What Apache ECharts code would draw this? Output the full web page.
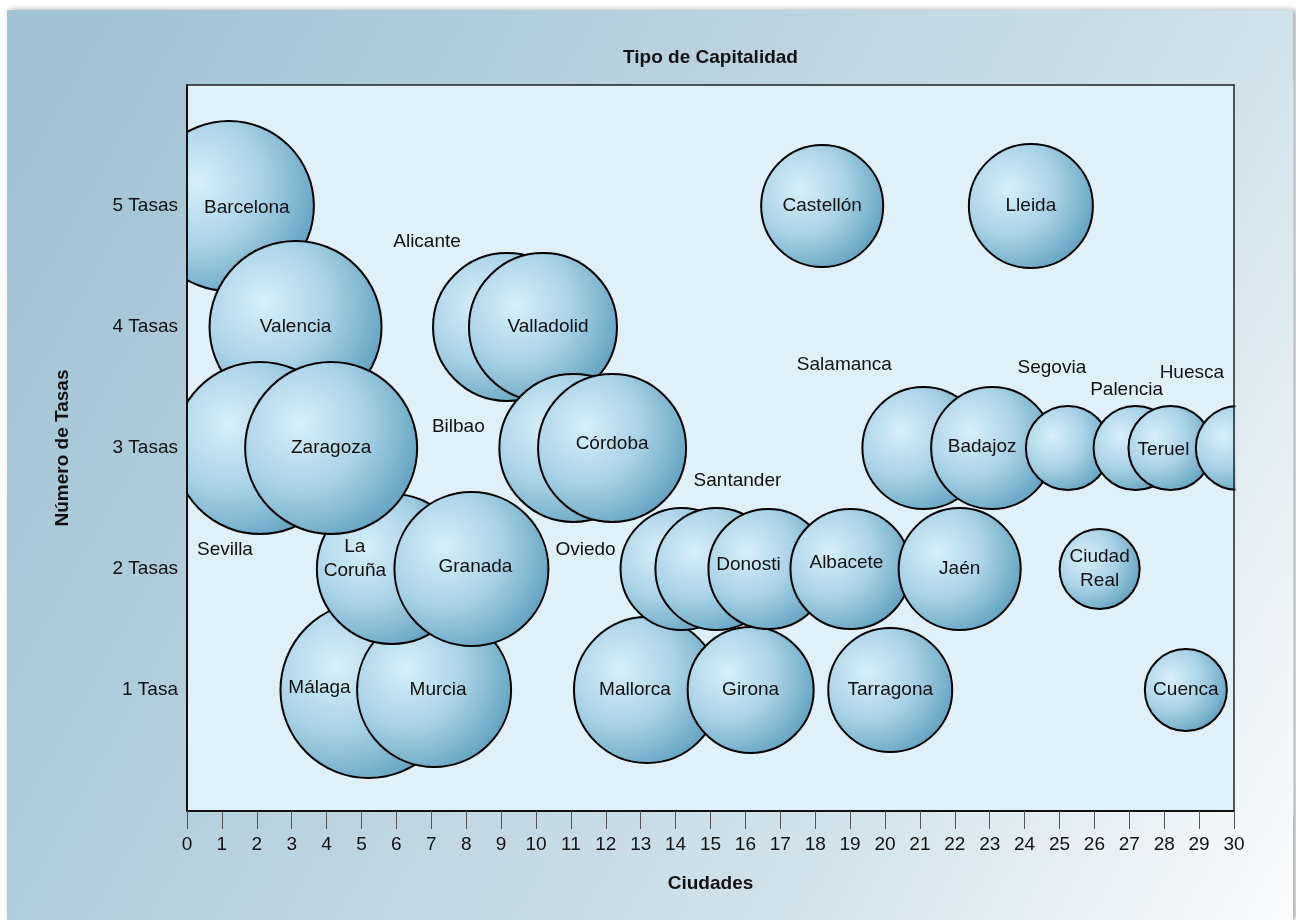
<!DOCTYPE html>
<html lang="es">
<head>
<meta charset="utf-8">
<title>Tipo de Capitalidad</title>
<script src="https://cdn.jsdelivr.net/npm/echarts@6/dist/echarts.min.js"></script>
<style>
  html, body { margin: 0; padding: 0; background: #fff; }
  #chart { width: 1296px; height: 920px; }
</style>
</head>
<body>
<div id="chart"></div>
<script>
// Datos (orden de dibujo: las burbujas posteriores quedan encima)
const ciudades = [
  'Málaga', 'Murcia', 'Mallorca', 'Girona', 'Tarragona', 'Cuenca',
  'La Coruña', 'Granada', 'Oviedo', 'Santander', 'Donosti', 'Albacete', 'Jaén', 'Ciudad Real',
  'Barcelona', 'Castellón', 'Lleida',
  'Valencia', 'Alicante', 'Valladolid',
  'Sevilla', 'Zaragoza', 'Bilbao', 'Córdoba', 'Salamanca', 'Badajoz', 'Segovia', 'Palencia', 'Teruel', 'Huesca'
]
const posicionCiudad = [
  5.2, 7.08, 13.18, 16.15, 20.15, 28.62,
  5.87, 8.15, 14.17, 15.17, 16.66, 19.01, 22.14, 26.15,
  1.2, 18.2, 24.18,
  3.11, 9.17, 10.2,
  2.09, 4.13, 11.07, 12.18, 21.1, 23.07, 25.24, 27.18, 28.18, 30.11
]
const numeroTasas = [
  1, 1, 1, 1, 1, 1,
  2, 2, 2, 2, 2, 2, 2, 2,
  5, 5, 5,
  4, 4, 4,
  3, 3, 3, 3, 3, 3, 3, 3, 3, 3
]
// tamaño relativo de cada burbuja
const tamano = [
  8.9, 7.8, 7.4, 6.4, 6.3, 4.2,
  7.6, 7.8, 6.2, 6.2, 6.1, 6.1, 6.2, 4.1,
  8.6, 6.2, 6.3,
  8.7, 7.5, 7.5,
  8.7, 8.7, 7.5, 7.5, 6.2, 6.2, 4.3, 4.3, 4.3, 4.3
]
const etiquetasY = ['', '1 Tasa', '2 Tasas', '3 Tasas', '4 Tasas', '5 Tasas', '']

// Desplazamiento de las etiquetas (las tapadas van fuera de la burbuja)
const desplazamientoEtiqueta = {
  'Barcelona': [18, 2],
  'Málaga': [-49, -2],
  'Mallorca': [-12, 0],
  'Donosti': [-20, -4],
  'Albacete': [-4, -6],
  'Badajoz': [-10, -1],
  'Teruel': [-7, 2],
  'La Coruña': [-37, -10],
  'Granada': [4, -2],
  'Murcia': [4, 0],
  'Valladolid': [5, 0],
  'Córdoba': [0, -4],
  'Alicante': [-80, -85],
  'Sevilla': [-35, 102],
  'Bilbao': [-115, -21],
  'Oviedo': [-96, -19],
  'Santander': [21, -88],
  'Salamanca': [-79, -83],
  'Segovia': [-16, -80],
  'Palencia': [-9, -58],
  'Huesca': [-46, -75]
}
const dosLineas = ['La Coruña', 'Ciudad Real']

const FUENTE = '"Liberation Sans", Arial, sans-serif'
const ESCALA = 20

const fondo = () => new echarts.graphic.LinearGradient(7, 200, 1293, 920, [
  { offset: 0, color: '#a2c3d4' },
  { offset: 0.3, color: '#b5cfdc' },
  { offset: 0.7, color: '#d2e2ea' },
  { offset: 1, color: '#fbfcfd' }
], true)

const burbuja = {
  type: 'radial', x: 0.32, y: 0.36, r: 0.75,
  colorStops: [
    { offset: 0, color: '#d8eff9' },
    { offset: 0.5, color: '#a8d2e5' },
    { offset: 1, color: '#5e9fbf' }
  ]
}

const datos = ciudades.map((c, i) => {
  const item = { name: c, value: [posicionCiudad[i], numeroTasas[i], tamano[i]] }
  if (desplazamientoEtiqueta[c]) item.label = { offset: desplazamientoEtiqueta[c] }
  return item
})

const chart = echarts.init(document.getElementById('chart'))

const ejeSecundario = {
  min: 0,
  axisLine: { show: true, onZero: false, lineStyle: { color: '#222', width: 1.5 } },
  axisTick: { show: false },
  axisLabel: { show: false },
  splitLine: { show: false },
  z: 4
}

chart.setOption({
  animation: false,
  graphic: [
    {
      type: 'rect', z: -10, silent: true,
      shape: { x: 7, y: 10, width: 1286, height: 910 },
      style: { fill: fondo(), shadowBlur: 6, shadowColor: 'rgba(0,0,0,0.35)', shadowOffsetX: 3 }
    },
    // tapas para recortar las burbujas que salen del área del gráfico
    { type: 'rect', z: 3, silent: true, shape: { x: 7, y: 80, width: 179, height: 735 }, style: { fill: fondo() } },
    { type: 'rect', z: 3, silent: true, shape: { x: 1235.5, y: 80, width: 58, height: 735 }, style: { fill: fondo() } },
    {
      type: 'text', z: 5, silent: true, x: 710.5, y: 58,
      style: {
        text: 'Tipo de Capitalidad', font: 'bold 19px ' + FUENTE, fill: '#111',
        textAlign: 'center', textVerticalAlign: 'middle'
      }
    }
  ],
  grid: {
    left: 187, right: 62, top: 85, bottom: 109,
    show: true, backgroundColor: '#dff0f9', borderWidth: 0,
    outerBoundsMode: 'none'
  },
  xAxis: [
    {
      type: 'value', min: 0, max: 30, interval: 1, z: 4,
      name: 'Ciudades', nameLocation: 'middle', nameGap: 63,
      nameTextStyle: { fontFamily: FUENTE, fontSize: 19, fontWeight: 'bold', color: '#111' },
      axisLine: { show: true, onZero: false, lineStyle: { color: '#111', width: 2 } },
      axisTick: { show: true, length: 18, lineStyle: { color: '#555', width: 1 } },
      axisLabel: { interval: 0, margin: 24, fontFamily: FUENTE, fontSize: 19, color: '#111' },
      splitLine: { show: false }
    },
    Object.assign({ type: 'value', position: 'top', max: 30 }, ejeSecundario)
  ],
  yAxis: [
    {
      type: 'value', min: 0, max: 6, interval: 1, z: 4,
      name: 'Número de Tasas', nameLocation: 'middle', nameGap: 115, nameRotate: 90,
      nameTextStyle: { fontFamily: FUENTE, fontSize: 19, fontWeight: 'bold', color: '#111' },
      axisLine: { show: true, onZero: false, lineStyle: { color: '#111', width: 2 } },
      axisTick: { show: false },
      axisLabel: {
        margin: 9, fontFamily: FUENTE, fontSize: 19, color: '#111',
        formatter: v => etiquetasY[v] || ''
      },
      splitLine: { show: false }
    },
    Object.assign({ type: 'value', position: 'right', max: 6 }, ejeSecundario)
  ],
  series: [{
    type: 'scatter',
    clip: false,
    z: 2,
    data: datos,
    symbol: 'circle',
    symbolSize: v => v[2] * ESCALA - 2,
    itemStyle: { color: burbuja, borderColor: '#000', borderWidth: 2, opacity: 1 },
    label: {
      show: true,
      position: 'inside',
      fontFamily: FUENTE,
      fontSize: 19,
      lineHeight: 24,
      color: '#111',
      formatter: p => dosLineas.includes(p.name) ? p.name.replace(' ', '\n') : p.name
    },
    emphasis: { disabled: true }
  }]
})

window.addEventListener('resize', () => chart.resize())
</script>
</body>
</html>
